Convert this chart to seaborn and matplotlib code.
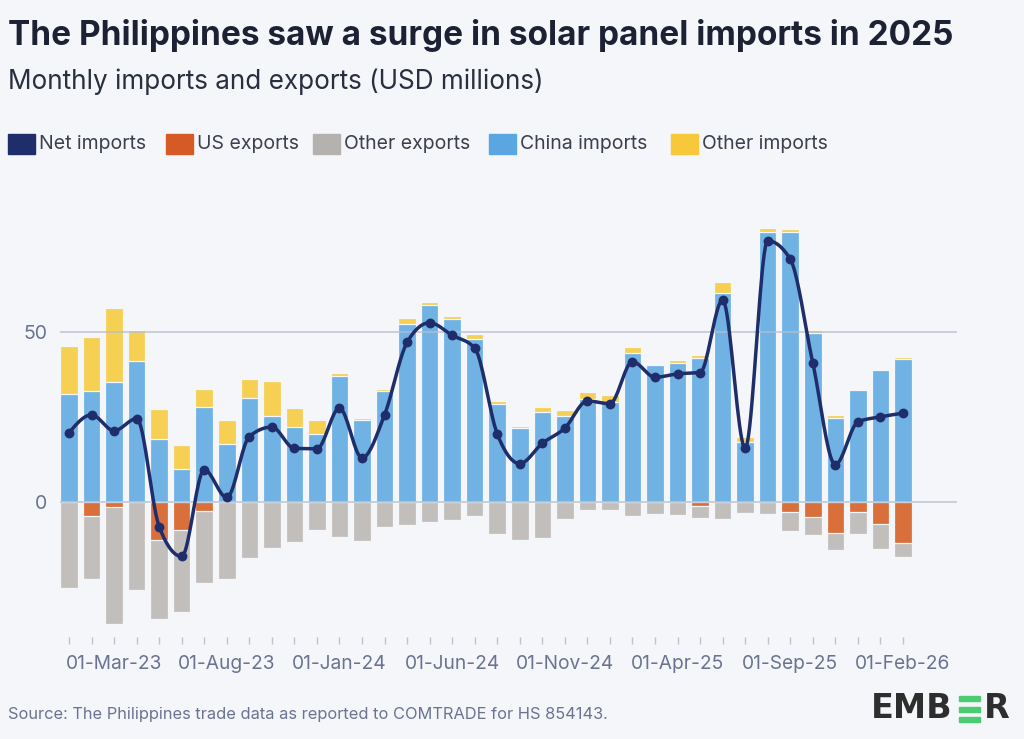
import numpy as np
import pandas as pd
import seaborn as sns
import matplotlib.pyplot as plt
from matplotlib.patches import Rectangle

# --- data (USD millions) ---
months = pd.date_range("2023-01-01", "2026-02-01", freq="MS")
month_labels = [d.strftime("%d-%b-%y") for d in months]

china_imports = [31.7, 32.6, 35.2, 41.6, 18.4, 9.6, 27.9, 16.9, 30.5, 25.3,
                 22.0, 19.8, 37.2, 24.1, 32.6, 52.4, 58.0, 53.8, 47.9, 28.8,
                 21.7, 26.4, 25.3, 30.3, 29.4, 43.8, 40.3, 41.0, 42.3, 61.5,
                 17.7, 79.7, 79.7, 49.9, 24.7, 32.8, 38.9, 42.1]
other_imports = [14.1, 15.9, 21.9, 9.0, 8.8, 7.1, 5.3, 7.2, 5.6, 10.3,
                 5.7, 4.2, 0.9, 0.7, 0.7, 1.9, 1.0, 1.0, 1.5, 0.8,
                 0.7, 1.4, 1.8, 2.0, 2.0, 1.9, 0.3, 0.7, 1.0, 3.3,
                 1.4, 1.0, 0.8, 0.9, 0.8, 0.5, 0.0, 0.5]
us_exports = [0.0, 4.2, 1.7, 0.0, 11.3, 8.3, 2.8, 0.0, 0.0, 0.0,
              0.0, 0.0, 0.0, 0.0, 0.0, 0.0, 0.0, 0.0, 0.0, 0.0,
              0.0, 0.0, 0.0, 0.0, 0.0, 0.0, 0.0, 0.0, 1.2, 0.0,
              0.0, 0.0, 3.0, 4.6, 9.3, 3.1, 6.6, 12.2]
other_exports = [25.4, 18.6, 34.4, 26.0, 23.3, 24.4, 21.3, 22.8, 16.8, 13.6,
                 11.8, 8.5, 10.5, 11.6, 7.6, 7.0, 6.0, 5.5, 4.2, 9.5,
                 11.3, 10.7, 5.2, 2.5, 2.5, 4.3, 3.6, 3.9, 3.7, 5.1,
                 3.3, 3.6, 5.6, 5.2, 5.0, 6.5, 7.3, 4.2]
net_imports = [20.3, 25.6, 20.9, 24.5, -7.4, -16.2, 9.4, 1.2, 19.2, 22.0,
               15.7, 15.6, 27.6, 12.9, 25.6, 47.0, 52.8, 49.1, 45.3, 20.0,
               11.2, 17.2, 21.7, 29.7, 28.9, 41.3, 36.7, 37.7, 38.1, 59.5,
               15.8, 77.0, 71.6, 41.0, 10.9, 23.5, 25.0, 26.1]

legend_labels = ["Net imports", "US exports", "Other exports", "China imports", "Other imports"]

# colours
BG = "#f4f6fa"
C_NET = "#1f2d6b"
C_US = "#d9703c"
C_OEXP = "#c2bebc"
C_CHINA = "#70b2e4"
C_OIMP = "#f5d052"
TXT = "#1c2133"
MUTED = "#6a7390"

df = pd.DataFrame({
    "month": month_labels,
    "china": china_imports,
    "other_imp": other_imports,
    "us": us_exports,
    "other_exp": other_exports,
    "net": net_imports,
})
# stacked totals (bars drawn back to front)
df["imp_total"] = df["china"] + df["other_imp"]
df["exp_total"] = -(df["us"] + df["other_exp"])
df["us_neg"] = -df["us"]

sns.set_theme(style="white")
plt.rcParams["font.family"] = ["Inter", "DejaVu Sans"]

fig = plt.figure(figsize=(10.24, 7.39), dpi=100, facecolor=BG)
ax = fig.add_axes([60 / 1024, 1 - 637 / 739, 897 / 1024, 423.3 / 739])
ax.set_facecolor(BG)

bar_kw = dict(order=month_labels, width=0.78, edgecolor=BG, linewidth=0.9,
              errorbar=None, ax=ax, zorder=2, saturation=1)
sns.barplot(data=df, x="month", y="imp_total", color=C_OIMP, **bar_kw)
sns.barplot(data=df, x="month", y="china", color=C_CHINA, **bar_kw)
sns.barplot(data=df, x="month", y="exp_total", color=C_OEXP, **bar_kw)
sns.barplot(data=df[df["us"] > 0], x="month", y="us_neg", color=C_US, **bar_kw)

# net imports: smooth (monotone cubic) path through the monthly points
def monotone_path(x, y, n=20):
    x = np.asarray(x, float)
    y = np.asarray(y, float)
    h = np.diff(x)
    s = np.diff(y) / h
    t = np.zeros_like(y)
    for i in range(1, len(y) - 1):
        p = (s[i - 1] * h[i] + s[i] * h[i - 1]) / (h[i - 1] + h[i])
        t[i] = (np.sign(s[i - 1]) + np.sign(s[i])) * min(abs(s[i - 1]), abs(s[i]), 0.5 * abs(p))
    t[0] = (3 * s[0] - t[1]) / 2
    t[-1] = (3 * s[-1] - t[-2]) / 2
    xs, ys = [], []
    for i in range(len(x) - 1):
        u = np.linspace(0, 1, n, endpoint=False)
        h00 = 2 * u**3 - 3 * u**2 + 1
        h10 = u**3 - 2 * u**2 + u
        h01 = -2 * u**3 + 3 * u**2
        h11 = u**3 - u**2
        xs.append(x[i] + u * h[i])
        ys.append(h00 * y[i] + h10 * h[i] * t[i] + h01 * y[i + 1] + h11 * h[i] * t[i + 1])
    xs.append([x[-1]])
    ys.append([y[-1]])
    return np.concatenate(xs), np.concatenate(ys)

pos = np.arange(len(month_labels))
cx, cy = monotone_path(pos, df["net"])
ax.plot(cx, cy, color=C_NET, lw=2.5, zorder=4, solid_capstyle="round")
sns.scatterplot(x=pos, y=df["net"], color=C_NET, s=50, edgecolor=C_NET,
                linewidth=0, zorder=5, ax=ax, legend=False)

# gridlines
for yv in (0, 50):
    ax.axhline(yv, color="#b8bfcd", lw=1.1, zorder=3, alpha=0.9)

ax.set_xlim(-0.4, 39.4)
ax.set_ylim(-40, 85)
ax.set_yticks([0, 50])
ax.set_yticklabels(["0", "50"], fontsize=14, color=MUTED)
ax.tick_params(axis="y", length=0, pad=9)
ax.set_xticks(pos)
ax.set_xticklabels([lab if (i - 2) % 5 == 0 else "" for i, lab in enumerate(month_labels)],
                   fontsize=13.8, color=MUTED)
ax.tick_params(axis="x", length=5, width=1, color="#bcc2cf", pad=8, bottom=True)
ax.set_xlabel("")
ax.set_ylabel("")
for sp in ax.spines.values():
    sp.set_visible(False)

# titles
fig.text(8 / 1024, 1 - 35 / 739, "The Philippines saw a surge in solar panel imports in 2025",
         fontsize=24, fontweight="bold", color=TXT, va="center", ha="left")
fig.text(8 / 1024, 1 - 82 / 739, "Monthly imports and exports (USD millions)",
         fontsize=18.8, color="#2a2f3f", va="center", ha="left")

# legend (square swatches + labels in one row)
legend_colors = [C_NET, "#d65a26", "#b5b1ae", "#5aa6e0", "#f6c83a"]
swatch_x = [8, 166, 313, 489, 671]
for lab, col, sx in zip(legend_labels, legend_colors, swatch_x):
    fig.patches.append(Rectangle((sx / 1024, 1 - 154 / 739), 27 / 1024, 20 / 739,
                                 transform=fig.transFigure, color=col))
    fig.text((sx + 31) / 1024, 1 - 144 / 739, lab, fontsize=14, color="#3b3f4e",
             va="center", ha="left")

# source + logo
fig.text(8 / 1024, 1 - 715 / 739,
         "Source: The Philippines trade data as reported to COMTRADE for HS 854143.",
         fontsize=11.8, color=MUTED, va="center", ha="left")
fig.text(953 / 1024, 1 - 709 / 739, "EMB", fontsize=24, fontweight="bold",
         color="#2e2e2e", va="center", ha="right", family="DejaVu Sans")
fig.text(984 / 1024, 1 - 709 / 739, "R", fontsize=24, fontweight="bold",
         color="#2e2e2e", va="center", ha="left", family="DejaVu Sans")
for yy in (696, 706.5, 717):
    fig.patches.append(Rectangle((959 / 1024, 1 - (yy + 5) / 739), 21 / 1024, 5 / 739,
                                 transform=fig.transFigure, color="#4ccc70"))

fig.savefig("out.png", dpi=100, facecolor=BG)
